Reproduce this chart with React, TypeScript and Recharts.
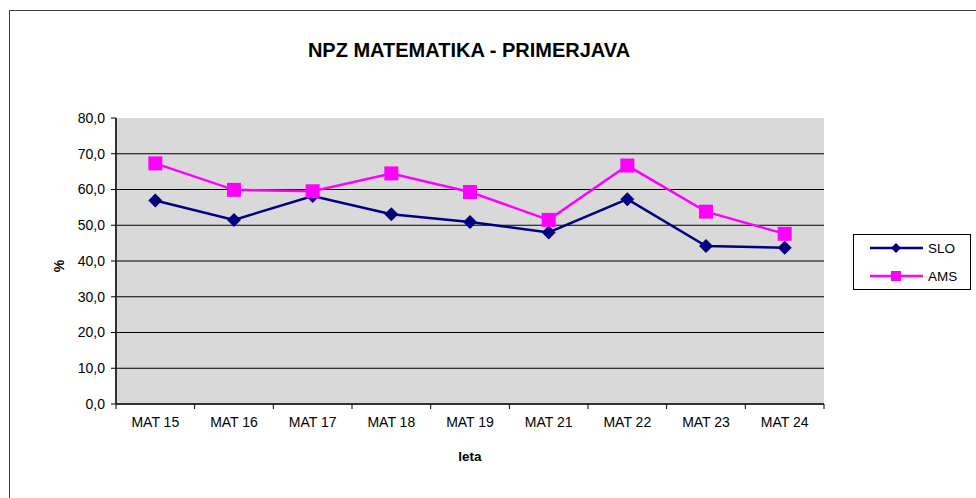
import React from "react";
import { LineChart, Line, XAxis, YAxis, CartesianGrid, Legend } from "recharts";

const categories = ["MAT 15", "MAT 16", "MAT 17", "MAT 18", "MAT 19", "MAT 21", "MAT 22", "MAT 23", "MAT 24"];
const sloValues = [56.9, 51.5, 58.2, 53.1, 50.9, 48.0, 57.3, 44.2, 43.7];
const amsValues = [67.3, 59.9, 59.5, 64.5, 59.3, 51.5, 66.7, 53.8, 47.6];
const seriesOrder = ["SLO", "AMS"];
const yTicks = [0, 10, 20, 30, 40, 50, 60, 70, 80];
const gridValues = [0, 10, 20, 30, 40, 50, 60, 70];

const SLO_COLOR = "#000080";
const AMS_COLOR = "#FF00FF";
const FONT = "'Liberation Sans', Arial, sans-serif";

const data = categories.map((c, i) => ({ name: c, SLO: sloValues[i], AMS: amsValues[i] }));

const Diamond = (props: any) => {
  const { cx, cy, fill } = props;
  if (cx == null || cy == null) return null;
  const r = 7;
  return <polygon points={`${cx},${cy - r} ${cx + r},${cy} ${cx},${cy + r} ${cx - r},${cy}`} fill={fill} />;
};

const Square = (props: any) => {
  const { cx, cy, fill } = props;
  if (cx == null || cy == null) return null;
  const s = 14;
  return <rect x={cx - s / 2} y={cy - s / 2} width={s} height={s} fill={fill} />;
};

// x ticks: label at band centre, tick mark on band edges (Excel style)
const XTick = (props: any) => {
  const { x, y, payload, index, visibleTicksCount, width } = props;
  const half = width / visibleTicksCount / 2;
  return (
    <g>
      <line x1={x - half} y1={y - 8} x2={x - half} y2={y - 3} stroke="#000" />
      {index === visibleTicksCount - 1 && (
        <line x1={x + half} y1={y - 8} x2={x + half} y2={y - 3} stroke="#000" />
      )}
      <text x={x} y={y + 15} textAnchor="middle" fontSize={14} fontFamily={FONT} fill="#000">
        {payload.value}
      </text>
    </g>
  );
};

const fmt = (v: number) => v.toFixed(1).replace(".", ",");

const renderLegend = (props: any) => {
  const payload = [...props.payload].sort(
    (a: any, b: any) => seriesOrder.indexOf(a.value) - seriesOrder.indexOf(b.value)
  );
  return (
    <div style={{ width: 118, height: 56, border: "1px solid #000", boxSizing: "border-box", background: "#fff" }}>
      <svg width={116} height={54}>
        {payload.map((p: any, i: number) => {
          const cy = 13 + i * 28;
          const color = p.color;
          return (
            <g key={p.value}>
              <line x1={16} y1={cy} x2={69} y2={cy} stroke={color} strokeWidth={2.5} />
              {p.value === "SLO" ? (
                <polygon points={`42,${cy - 5} 47,${cy} 42,${cy + 5} 37,${cy}`} fill={color} />
              ) : (
                <rect x={37} y={cy - 5} width={10} height={10} fill={color} />
              )}
              <text x={74} y={cy + 5} fontSize={13.5} fontFamily={FONT} fill="#000">
                {p.value}
              </text>
            </g>
          );
        })}
      </svg>
    </div>
  );
};

export default function App() {
  return (
    <div
      style={{
        position: "absolute",
        left: 0,
        top: 0,
        width: 976,
        height: 498,
        overflow: "hidden",
        background: "#fff",
        fontFamily: FONT,
      }}
    >
      <div
        style={{
          position: "absolute",
          left: 9,
          top: 10,
          width: 1000,
          height: 520,
          border: "1px solid #404040",
        }}
      />
      <LineChart
        width={976}
        height={498}
        data={data}
        margin={{ top: 118, right: 152, left: 56, bottom: 64 }}
        style={{ position: "absolute", left: 0, top: 0 }}
      >
        <CartesianGrid
          vertical={false}
          horizontalValues={gridValues}
          stroke="#000"
          strokeWidth={1}
          fill="#D9D9D9"
          fillOpacity={1}
          yAxisId="left"
        />
        <XAxis
          dataKey="name"
          scale="band"
          height={30}
          interval={0}
          tickLine={false}
          axisLine={{ stroke: "#333", strokeWidth: 2 }}
          tick={<XTick />}
        />
        <XAxis
          xAxisId="top"
          dataKey="name"
          scale="band"
          orientation="top"
          height={0}
          tick={false}
          tickLine={false}
          axisLine={{ stroke: "#808080", strokeWidth: 2 }}
        />
        <YAxis
          yAxisId="left"
          width={60}
          domain={[0, 80]}
          ticks={yTicks}
          tickFormatter={fmt}
          interval={0}
          tickSize={5}
          tickMargin={6}
          tickLine={{ stroke: "#000" }}
          axisLine={{ stroke: "#333", strokeWidth: 2 }}
          tick={{ fontSize: 14, fontFamily: FONT, fill: "#000" }}
        />
        <YAxis
          yAxisId="right"
          orientation="right"
          width={0}
          domain={[0, 80]}
          tick={false}
          tickLine={false}
          axisLine={{ stroke: "#808080", strokeWidth: 2 }}
        />
        <Legend
          layout="vertical"
          align="center"
          verticalAlign="middle"
          wrapperStyle={{ left: 853, top: 234, width: 118, height: 56 }}
          content={renderLegend}
        />
        <Line
          yAxisId="left"
          type="linear"
          dataKey="SLO"
          name="SLO"
          stroke={SLO_COLOR}
          strokeWidth={2.5}
          dot={<Diamond fill={SLO_COLOR} />}
          activeDot={false}
          isAnimationActive={false}
        />
        <Line
          yAxisId="left"
          type="linear"
          dataKey="AMS"
          name="AMS"
          stroke={AMS_COLOR}
          strokeWidth={2.5}
          dot={<Square fill={AMS_COLOR} />}
          activeDot={false}
          isAnimationActive={false}
        />
      </LineChart>
      <svg width={976} height={498} style={{ position: "absolute", left: 0, top: 0, pointerEvents: "none" }}>
        <text x={469} y={57} textAnchor="middle" fontSize={20} fontWeight="bold" fontFamily={FONT} fill="#000">
          NPZ MATEMATIKA - PRIMERJAVA
        </text>
        <text
          x={64}
          y={266}
          textAnchor="middle"
          fontSize={14}
          fontWeight="bold"
          fontFamily={FONT}
          fill="#000"
          transform="rotate(-90 64 266)"
        >
          %
        </text>
        <text x={470} y={461} textAnchor="middle" fontSize={13.5} fontWeight="bold" fontFamily={FONT} fill="#000">
          leta
        </text>
      </svg>
    </div>
  );
}
